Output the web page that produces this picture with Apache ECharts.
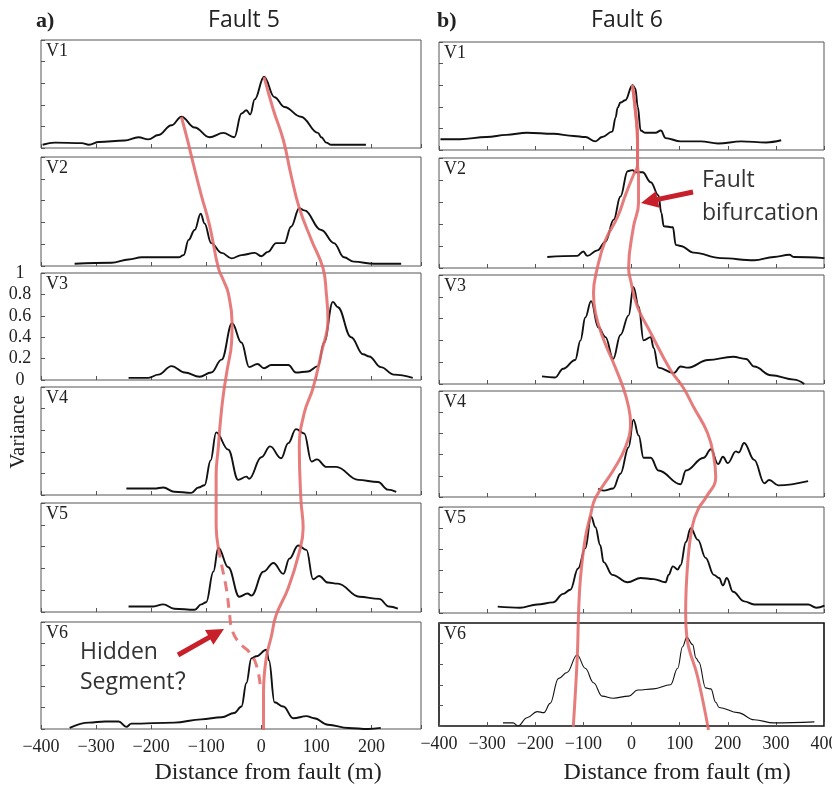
<!DOCTYPE html>
<html><head><meta charset="utf-8">
<script src="https://cdn.jsdelivr.net/npm/echarts@6/dist/echarts.min.js"></script>
<style>html,body{margin:0;padding:0;background:#fff}#c{width:832px;height:788px}</style>
</head><body><div id="c"></div>
<script>
// ---------------- DATA ----------------
const panelLabels = ['V1', 'V2', 'V3', 'V4', 'V5', 'V6'];
const columnTitles = ['Fault 5', 'Fault 6'];
const columnLetters = ['a)', 'b)'];
const xAxisTitle = 'Distance from fault (m)';
const yAxisTitle = 'Variance';

// Fault 5 variance profiles: [distance (m), variance]
const f5v1 = [[-397,0.03],[-375,0.05],[-326,0.045],[-313,0.03],[-295,0.055],[-248,0.07],[-223,0.10],[-205,0.08],[-187,0.12],[-163,0.21],[-145,0.29],[-121,0.19],[-94,0.10],[-69,0.14],[-49,0.10],[-36,0.32],[-27,0.35],[-20,0.31],[-12,0.45],[5,0.66],[24,0.47],[42,0.38],[72,0.29],[103,0.14],[109,0.10],[118,0.05],[127,0.03],[190,0.03]];
const f5v2 = [[-339,0.02],[-272,0.03],[-241,0.06],[-217,0.08],[-150,0.08],[-141,0.10],[-132,0.24],[-121,0.33],[-110,0.48],[-103,0.39],[-91,0.21],[-72,0.12],[-54,0.07],[-36,0.10],[-12,0.12],[0,0.09],[12,0.13],[27,0.21],[42,0.21],[54,0.36],[69,0.53],[78,0.51],[109,0.33],[132,0.21],[150,0.08],[168,0.04],[205,0.02],[254,0.02]];
const f5v3 = [[-241,0.02],[-205,0.02],[-187,0.05],[-163,0.13],[-139,0.07],[-112,0.03],[-91,0.07],[-72,0.19],[-53,0.53],[-36,0.35],[-22,0.12],[-7,0.15],[5,0.11],[18,0.14],[49,0.14],[63,0.07],[85,0.08],[103,0.13],[114,0.35],[130,0.73],[139,0.68],[163,0.40],[185,0.24],[196,0.22],[217,0.12],[241,0.05],[275,0.02]];
const f5v4 = [[-245,0.06],[-194,0.06],[-178,0.07],[-158,0.03],[-127,0.02],[-114,0.07],[-103,0.09],[-92,0.32],[-82,0.58],[-60,0.42],[-42,0.14],[-27,0.17],[-22,0.15],[0,0.35],[16,0.45],[36,0.34],[49,0.48],[63,0.61],[78,0.57],[91,0.31],[101,0.33],[118,0.26],[136,0.26],[176,0.14],[212,0.12],[230,0.05],[245,0.03]];
const f5v5 = [[-241,0.05],[-196,0.05],[-178,0.07],[-158,0.03],[-121,0.02],[-109,0.07],[-100,0.09],[-87,0.37],[-78,0.59],[-60,0.41],[-40,0.14],[-25,0.17],[-18,0.15],[4,0.37],[22,0.45],[40,0.35],[51,0.49],[67,0.61],[82,0.57],[94,0.30],[105,0.33],[121,0.27],[139,0.26],[178,0.14],[214,0.12],[232,0.05],[248,0.03]];
const f5v6 = [[-348,0.01],[-313,0.06],[-284,0.07],[-259,0.07],[-245,0.02],[-236,0.05],[-158,0.06],[-109,0.09],[-72,0.11],[-49,0.15],[-36,0.21],[-27,0.43],[-18,0.66],[-9,0.68],[9,0.74],[14,0.64],[24,0.25],[40,0.21],[58,0.10],[82,0.12],[96,0.10],[121,0.04],[158,0.01],[194,0.00],[217,0.01]];

// Fault 6 variance profiles
const f6v1 = [[-397,0.10],[-357,0.10],[-301,0.12],[-260,0.14],[-217,0.16],[-163,0.15],[-120,0.13],[-96,0.12],[-75,0.08],[-61,0.12],[-40,0.17],[-33,0.30],[-29,0.39],[-23,0.44],[-13,0.46],[2,0.60],[8,0.57],[13,0.40],[19,0.18],[29,0.16],[50,0.16],[61,0.18],[71,0.11],[102,0.08],[144,0.08],[180,0.06],[228,0.08],[280,0.07],[311,0.09]];
const f6v2 = [[-175,0.10],[-113,0.11],[-100,0.15],[-92,0.11],[-71,0.16],[-54,0.24],[-37,0.44],[-23,0.65],[-8,0.88],[2,0.89],[8,0.87],[23,0.87],[40,0.78],[56,0.66],[62,0.50],[67,0.38],[86,0.37],[92,0.21],[102,0.20],[129,0.14],[186,0.09],[255,0.07],[296,0.10],[328,0.12],[338,0.10],[401,0.09]];
const f6v3 = [[-186,0.07],[-159,0.06],[-142,0.14],[-117,0.22],[-106,0.40],[-96,0.61],[-84,0.76],[-69,0.52],[-54,0.43],[-38,0.23],[-23,0.45],[-6,0.63],[4,0.89],[15,0.71],[25,0.40],[40,0.43],[46,0.33],[56,0.15],[88,0.10],[102,0.16],[117,0.15],[159,0.22],[211,0.25],[238,0.23],[255,0.16],[290,0.08],[338,0.04],[359,0.00]];
const f6v4 = [[-69,0.08],[-58,0.06],[-38,0.08],[-23,0.22],[-6,0.47],[4,0.73],[15,0.58],[25,0.37],[40,0.37],[56,0.25],[102,0.12],[113,0.25],[150,0.37],[165,0.45],[180,0.31],[190,0.38],[200,0.32],[217,0.43],[223,0.42],[234,0.51],[255,0.35],[276,0.13],[286,0.16],[305,0.11],[367,0.15]];
const f6v5 = [[-278,0.06],[-232,0.05],[-196,0.08],[-163,0.10],[-142,0.18],[-127,0.22],[-111,0.42],[-96,0.61],[-84,0.91],[-75,0.81],[-65,0.64],[-58,0.48],[-40,0.36],[-8,0.29],[19,0.33],[46,0.32],[71,0.29],[77,0.36],[86,0.44],[96,0.41],[102,0.45],[113,0.67],[123,0.80],[138,0.69],[154,0.52],[171,0.36],[182,0.33],[190,0.26],[198,0.33],[211,0.20],[234,0.11],[255,0.08],[311,0.08],[367,0.08],[384,0.05],[401,0.07]];
const f6v6 = [[-267,0.03],[-246,0.03],[-236,0.00],[-217,0.08],[-196,0.14],[-182,0.13],[-169,0.22],[-152,0.46],[-134,0.52],[-113,0.69],[-96,0.56],[-79,0.42],[-61,0.29],[-38,0.27],[-6,0.29],[13,0.35],[46,0.36],[81,0.40],[96,0.56],[106,0.77],[115,0.86],[127,0.79],[134,0.66],[140,0.62],[154,0.37],[165,0.36],[175,0.23],[182,0.18],[221,0.13],[255,0.06],[296,0.03],[380,0.04]];

// Fault traces across the stacked profiles: [distance (m), depth level (0 = top of V1, 1 unit per profile)]
const f5TraceWest = [[-145,0.66],[-134,0.857],[-123,1.071],[-109,1.329],[-94,1.586],[-78,1.954],[-69,2.057],[-60,2.169],[-53,2.426],[-54,2.597],[-62,2.829],[-69,3.043],[-74,3.257],[-78,3.489],[-82,3.729],[-82,3.943],[-82,4.157],[-78,4.354]];
const f5TraceHidden = [[-78,4.354],[-72,4.5],[-63,4.714],[-58,4.903],[-53,5.057],[-40,5.168],[-22,5.246],[-9,5.357],[-2,5.529]];
const f5TraceEast = [[5,0.317],[22,0.6],[40,0.857],[54,1.157],[69,1.44],[91,1.714],[112,1.954],[118,2.169],[121,2.4],[109,2.683],[94,2.983],[78,3.197],[69,3.489],[72,3.943],[76,4.183],[69,4.389],[49,4.697],[27,4.929],[18,5.117],[9,5.297],[4,5.597],[4,5.914]];
const f6TraceWest = [[2,0.369],[8,0.583],[12.5,0.84],[12.5,1.054],[4,1.14],[-12.5,1.311],[-29,1.5],[-54,1.697],[-71,1.937],[-79,2.151],[-75,2.323],[-60,2.529],[-40,2.726],[-17,2.966],[-6,3.129],[-2,3.266],[-12.5,3.471],[-37.5,3.669],[-75,3.909],[-85,4.054],[-96,4.251],[-106,4.594],[-110,4.894],[-112.5,5.254],[-121,5.871]];
const f6TraceEast = [[2,0.369],[8,0.583],[12.5,0.84],[12.5,1.054],[14.6,1.14],[14.6,1.38],[4,1.586],[-6,1.937],[-2,2.04],[12.5,2.271],[40,2.494],[81,2.811],[108,2.966],[129,3.129],[158,3.351],[171,3.557],[175,3.729],[154,3.909],[140,3.994],[127,4.14],[117,4.457],[112.5,4.894],[115,5.1],[137.5,5.443],[160,5.897]];

// ---------------- LAYOUT ----------------
const SERIF = '"Liberation Serif","Times New Roman",serif';
const SANS = '"Open Sans","Noto Sans","Noto Sans CJK SC",sans-serif';
const columns = [
  { left: 41, width: 380, xmax: 290, tops: [40,157,273,387,503,622], bottoms: [148,266,380,495,612,729],
    profiles: [f5v1,f5v2,f5v3,f5v4,f5v5,f5v6], overlayTop: 40 },
  { left: 439, width: 385, xmax: 400, tops: [42,158,275,391,507,623], bottoms: [150,268,384,497,613,726],
    profiles: [f6v1,f6v2,f6v3,f6v4,f6v5,f6v6], overlayTop: 42 }
];

const grids = [], xAxes = [], yAxes = [], series = [], graphics = [];
const minusFmt = v => (v % 100 === 0) ? String(v).replace('-', '\u2212') : '';

columns.forEach((c, ci) => {
  c.profiles.forEach((prof, i) => {
    const g = grids.length;
    const last = i === 5;
    const strong = ci === 1 && last;
    grids.push({ left: c.left, width: c.width, top: c.tops[i], height: c.bottoms[i] - c.tops[i],
      show: true, borderColor: strong ? '#111' : '#555', borderWidth: strong ? 1.6 : 1,
      containLabel: false, outerBoundsMode: 'none' });
    xAxes.push({ type: 'value', gridIndex: g, min: -400, max: c.xmax, interval: 100,
      axisLine: { show: false, onZero: false }, splitLine: { show: false },
      axisTick: { show: true, inside: true, length: 4, lineStyle: { color: '#555' } },
      axisLabel: { show: last, formatter: minusFmt, fontFamily: SERIF, fontSize: 18, color: '#222', margin: 9,
        showMinLabel: true, showMaxLabel: true, hideOverlap: false } });
    yAxes.push({ type: 'value', gridIndex: g, min: 0, max: 1, interval: 0.2,
      axisLine: { show: false, onZero: false }, splitLine: { show: false },
      axisTick: { show: true, inside: true, length: 4, lineStyle: { color: '#555' } },
      axisLabel: { show: ci === 0 && i === 2, align: 'center', margin: 21, fontFamily: SERIF, fontSize: 18, color: '#222',
        formatter: v => String(+v.toFixed(1)) } });
    series.push({ type: 'line', xAxisIndex: g, yAxisIndex: g, data: prof, showSymbol: false, symbol: 'none',
      smooth: 0.4, smoothMonotone: 'x', z: 3, silent: true,
      lineStyle: { color: '#111', width: strong ? 1.1 : 1.9 } });
    graphics.push({ type: 'text', left: c.left + 5, top: c.tops[i] + 2, z: 20,
      style: { text: panelLabels[i], font: '18px ' + SERIF, fill: '#222' } });
  });
});

// overlay grids for fault traces
const overlayIdx = [];
columns.forEach((c, ci) => {
  const g = grids.length; overlayIdx.push(g);
  grids.push({ left: c.left, width: c.width, top: c.overlayTop, height: 700, show: false, outerBoundsMode: 'none' });
  xAxes.push({ type: 'value', gridIndex: g, min: -400, max: c.xmax, show: false });
  yAxes.push({ type: 'value', gridIndex: g, min: 0, max: 6, inverse: true, show: false });
});
const red = '#e36a6a';
const traceStyle = (data, g, dashed) => ({ type: 'line', xAxisIndex: g, yAxisIndex: g, data, showSymbol: false, symbol: 'none',
  smooth: 0.45, z: 5, silent: true, clip: false,
  lineStyle: { color: red, width: 3, opacity: 0.88, type: dashed ? [10, 7] : 'solid', cap: 'butt' } });
series.push(traceStyle(f5TraceWest, overlayIdx[0], false));
series.push(traceStyle(f5TraceHidden, overlayIdx[0], true));
series.push(traceStyle(f5TraceEast, overlayIdx[0], false));
series.push(traceStyle(f6TraceWest, overlayIdx[1], false));
series.push(traceStyle(f6TraceEast, overlayIdx[1], false));

// titles / axis names
graphics.push({ type: 'text', left: 36, top: 10, style: { text: columnLetters[0], font: 'bold 22px ' + SERIF, fill: '#222' } });
graphics.push({ type: 'text', left: 437, top: 10, style: { text: columnLetters[1], font: 'bold 22px ' + SERIF, fill: '#222' } });
graphics.push({ type: 'text', x: 244, y: 20, style: { text: columnTitles[0], font: '23px ' + SANS, fill: '#222', align: 'center', verticalAlign: 'middle' } });
graphics.push({ type: 'text', x: 627, y: 20, style: { text: columnTitles[1], font: '23px ' + SANS, fill: '#222', align: 'center', verticalAlign: 'middle' } });
graphics.push({ type: 'text', x: 268, y: 773, style: { text: xAxisTitle, font: '24px ' + SERIF, fill: '#222', align: 'center', verticalAlign: 'middle' } });
graphics.push({ type: 'text', x: 677, y: 773, style: { text: xAxisTitle, font: '24px ' + SERIF, fill: '#222', align: 'center', verticalAlign: 'middle' } });
graphics.push({ type: 'text', x: 18, y: 432, rotation: Math.PI / 2, style: { text: yAxisTitle, font: '21px ' + SERIF, fill: '#222', align: 'center', verticalAlign: 'middle' } });

// annotations
graphics.push({ type: 'text', x: 702, y: 180, z: 20, style: { text: 'Fault', font: '23px ' + SANS, fill: '#333', verticalAlign: 'middle' } });
graphics.push({ type: 'text', x: 702, y: 213, z: 20, style: { text: 'bifurcation', font: '23px ' + SANS, fill: '#333', verticalAlign: 'middle' } });
graphics.push({ type: 'text', x: 80, y: 652, z: 20, style: { text: 'Hidden', font: '23px ' + SANS, fill: '#333', verticalAlign: 'middle' } });
graphics.push({ type: 'text', x: 80, y: 682, z: 20, style: { text: 'Segment\uFF1F', font: '23px ' + SANS, fill: '#333', verticalAlign: 'middle' } });

function arrow(x1, y1, x2, y2, color, w, hl, hw) {
  const dx = x2 - x1, dy = y2 - y1, L = Math.hypot(dx, dy), ux = dx / L, uy = dy / L;
  const bx = x2 - ux * hl, by = y2 - uy * hl;
  return [
    { type: 'line', z: 21, shape: { x1, y1, x2: bx + ux * 2, y2: by + uy * 2 }, style: { stroke: color, lineWidth: w } },
    { type: 'polygon', z: 21, shape: { points: [[x2, y2], [bx - uy * hw, by + ux * hw], [bx + uy * hw, by - ux * hw]] }, style: { fill: color } }
  ];
}
graphics.push(...arrow(693, 192, 641, 203, '#c8202a', 5, 17, 8.5));
graphics.push(...arrow(178, 655, 224, 629, '#c8202a', 5, 17, 8.5));

const chart = echarts.init(document.getElementById('c'), null, { renderer: 'canvas' });
chart.setOption({
  animation: false,
  backgroundColor: '#fff',
  grid: grids, xAxis: xAxes, yAxis: yAxes, series,
  graphic: { elements: graphics }
});
</script></body></html>
